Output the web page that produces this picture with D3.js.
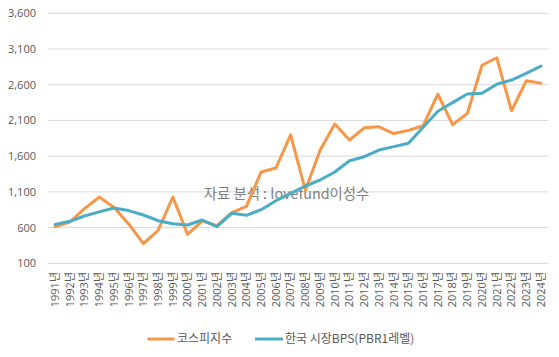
<!DOCTYPE html>
<html><head><meta charset="utf-8">
<script src="https://cdn.jsdelivr.net/npm/d3@7"></script>
<style>
html,body{margin:0;padding:0;background:#fff;}
svg{display:block;font-family:"Open Sans","Noto Sans CJK KR",sans-serif;}
</style></head>
<body><svg id="c" width="559" height="357"></svg>
<script>
const years = ["1991","1992","1993","1994","1995","1996","1997","1998","1999","2000","2001","2002","2003","2004","2005","2006","2007","2008","2009","2010","2011","2012","2013","2014","2015","2016","2017","2018","2019","2020","2021","2022","2023","2024"];
const kospi = [611,678,866,1027,883,651,376,562,1028,505,694,628,811,896,1379,1434,1897,1124,1683,2051,1826,1997,2011,1916,1961,2026,2467,2041,2198,2873,2978,2236,2655,2620];
const bps = [645,688,762,820,875,838,776,697,655,636,706,615,800,772,851,977,1080,1182,1266,1378,1536,1592,1686,1733,1780,2004,2228,2349,2470,2480,2606,2666,2760,2860];
const yTicks = [100,600,1100,1600,2100,2600,3100,3600];
const seriesNames = ["코스피지수","한국 시장BPS(PBR1레벨)"];
const watermark = "자료 분석 : lovefund이성수";

const colors = ["#F79646","#4BACC6"];
const svg = d3.select("#c");
const x = d3.scaleBand().domain(years).range([47.7,548.3]);
const y = d3.scaleLinear().domain([100,3600]).range([263.3,13.3]);

// grid
svg.append("g").selectAll("line").data(yTicks).join("line")
  .attr("x1",47.7).attr("x2",548.3)
  .attr("y1",d=>y(d)).attr("y2",d=>y(d))
  .attr("stroke","#d9d9d9").attr("stroke-width",1);

// y axis labels
const yAxis = d3.axisLeft(y).tickValues(yTicks).tickFormat(d3.format(",")).tickSize(0).tickPadding(0);
const ya = svg.append("g").attr("transform","translate(36,0)").call(yAxis);
ya.select(".domain").remove();
ya.selectAll("text").attr("font-size",11).attr("fill","#595959").attr("font-family","'Open Sans','Noto Sans CJK KR',sans-serif");

// x axis labels
const xAxis = d3.axisBottom(x).tickSize(0).tickFormat(d=>d+"년");
const xa = svg.append("g").attr("transform","translate(0,270)").call(xAxis);
xa.select(".domain").remove();
xa.selectAll("text")
  .attr("font-size",11).attr("fill","#595959")
  .attr("font-family","'Open Sans','Noto Sans CJK KR',sans-serif")
  .attr("transform","rotate(-90)")
  .attr("text-anchor","end")
  .attr("x",-2).attr("y",0).attr("dy","0.35em");

// watermark (beneath the lines)
svg.append("text").attr("x",286.5).attr("y",198.5).attr("text-anchor","middle")
  .attr("font-size",14.4).attr("fill","#7f7f7f").attr("font-family","'Noto Sans CJK KR',sans-serif")
  .text(watermark);

const line = d3.line().x((d,i)=>x(years[i])+x.bandwidth()/2).y(d=>y(d));
[kospi,bps].forEach((s,k)=>{
  svg.append("path").datum(s).attr("d",line).attr("fill","none")
    .attr("stroke",colors[k]).attr("stroke-width",3).attr("stroke-linejoin","round").attr("stroke-linecap","round");
});

// legend
const lg = [{x1:147.5,x2:174.5,tx:177},{x1:255,x2:283,tx:285}];
lg.forEach((l,k)=>{
  svg.append("line").attr("x1",l.x1).attr("x2",l.x2).attr("y1",339).attr("y2",339)
    .attr("stroke",colors[k]).attr("stroke-width",3);
  svg.append("text").attr("x",l.tx).attr("y",339).attr("dy","0.35em")
    .attr("font-size",12).attr("fill","#595959").attr("font-family","'Noto Sans CJK KR',sans-serif")
    .text(seriesNames[k]);
});
</script></body></html>
